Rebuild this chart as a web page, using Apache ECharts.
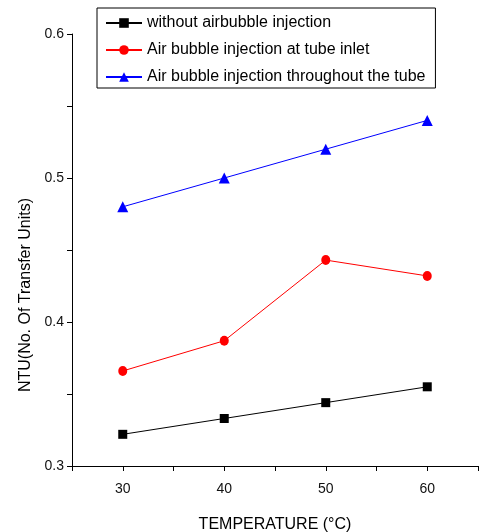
<!DOCTYPE html>
<html>
<head>
<meta charset="utf-8">
<script src="https://cdn.jsdelivr.net/npm/echarts@6/dist/echarts.min.js"></script>
<style>
html,body{margin:0;padding:0;background:#fff;}
#c{width:486px;height:532px;}
</style>
</head>
<body>
<div id="c"></div>
<script>
const temperatures = [30, 40, 50, 60];
const withoutBubble = [0.322, 0.333, 0.344, 0.355];
const inletBubble = [0.366, 0.387, 0.443, 0.432];
const throughoutBubble = [0.480, 0.500, 0.520, 0.540];
const seriesNames = [
  'without airbubble injection',
  'Air bubble injection at tube inlet',
  'Air bubble injection throughout the tube'
];
const xTitle = 'TEMPERATURE (°C)';
const yTitle = 'NTU(No. Of Transfer Units)';

const pairs = vals => temperatures.map((t, i) => [t, vals[i]]);
const font = 'Arial, "Liberation Sans", sans-serif';

const chart = echarts.init(document.getElementById('c'), null, {renderer: 'canvas'});
chart.setOption({
  animation: false,
  backgroundColor: '#fff',
  textStyle: {fontFamily: font},
  grid: {left: 72, right: 8, top: 34, bottom: 66, containLabel: false, outerBoundsMode: 'none'},
  legend: {
    orient: 'vertical',
    left: 97,
    top: 8,
    borderColor: '#000',
    borderWidth: 1,
    borderRadius: 0,
    padding: [7, 10, 3, 8],
    itemGap: 11,
    itemWidth: 36,
    itemHeight: 12,
    textStyle: {fontFamily: font, fontSize: 16, lineHeight: 16, color: '#000'},
    data: seriesNames
  },
  xAxis: {
    type: 'value',
    min: 25, max: 65, interval: 5,
    name: xTitle,
    nameLocation: 'middle',
    nameGap: 51,
    nameTextStyle: {fontFamily: font, fontSize: 16, color: '#000'},
    axisLine: {show: true, onZero: false, lineStyle: {color: '#000', width: 1}},
    axisTick: {show: true, inside: false, length: 5, lineStyle: {color: '#000'}},
    axisLabel: {
      fontFamily: font, fontSize: 14, color: '#111', margin: 16,
      formatter: v => (v % 10 === 0 ? String(v) : '')
    },
    splitLine: {show: false}
  },
  yAxis: {
    type: 'value',
    min: 0.3, max: 0.6, interval: 0.05,
    axisLine: {show: true, onZero: false, lineStyle: {color: '#000', width: 1}},
    axisTick: {show: true, inside: false, length: 5, lineStyle: {color: '#000'}},
    axisLabel: {
      fontFamily: font, fontSize: 14, color: '#111', margin: 8,
      formatter: v => (Math.round(v * 100) % 10 === 0 ? v.toFixed(1) : '')
    },
    splitLine: {show: false}
  },
  graphic: [{
    type: 'text',
    x: 26, y: 295,
    rotation: Math.PI / 2,
    style: {
      text: yTitle,
      fontFamily: font, fontSize: 16, fill: '#000',
      textAlign: 'center', textVerticalAlign: 'middle'
    }
  }],
  series: [
    {
      name: seriesNames[0], type: 'line', data: pairs(withoutBubble),
      symbol: 'rect', symbolSize: 9,
      itemStyle: {color: '#000'}, lineStyle: {color: '#000', width: 1}
    },
    {
      name: seriesNames[1], type: 'line', data: pairs(inletBubble),
      symbol: 'circle', symbolSize: [9, 10],
      itemStyle: {color: '#ff0000'}, lineStyle: {color: '#ff0000', width: 1}
    },
    {
      name: seriesNames[2], type: 'line', data: pairs(throughoutBubble),
      symbol: 'triangle', symbolSize: 11,
      itemStyle: {color: '#0000ff'}, lineStyle: {color: '#0000ff', width: 1}
    }
  ]
});
</script>
</body>
</html>
